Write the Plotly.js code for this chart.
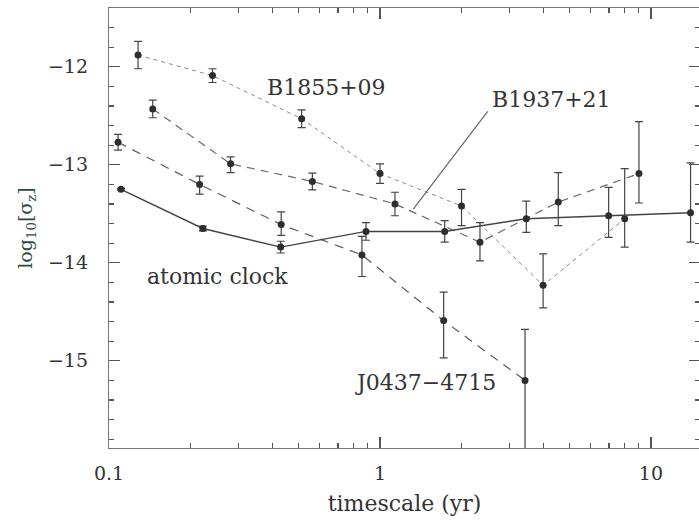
<!DOCTYPE html>
<html>
<head>
<meta charset="utf-8">
<script src="https://cdn.plot.ly/plotly-3.0.1.min.js"></script>
<style>
html,body{margin:0;padding:0;background:#fff;overflow:hidden;width:699px;height:525px;}
#chart{width:706px;height:525px;}
</style>
</head>
<body>
<div id="chart"></div>
<script>
// ---- data ----
const b1855_x = [0.128, 0.241, 0.514, 1.0, 2.0, 4.0, 8.0];
const b1855_y = [-11.88, -12.09, -12.53, -13.09, -13.42, -14.23, -13.55];
const b1855_up = [0.14, 0.07, 0.09, 0.10, 0.17, 0.32, 0.51];
const b1855_dn = [0.14, 0.07, 0.09, 0.10, 0.20, 0.23, 0.29];

const b1937_x = [0.145, 0.281, 0.563, 1.136, 2.339, 4.55, 9.03];
const b1937_y = [-12.43, -12.99, -13.17, -13.40, -13.79, -13.38, -13.09];
const b1937_up = [0.09, 0.07, 0.085, 0.12, 0.20, 0.30, 0.53];
const b1937_dn = [0.09, 0.09, 0.085, 0.12, 0.19, 0.24, 0.30];

const j0437_x = [0.108, 0.216, 0.432, 0.858, 1.718, 3.43];
const j0437_y = [-12.77, -13.20, -13.61, -13.92, -14.59, -15.20];
const j0437_up = [0.08, 0.085, 0.13, 0.19, 0.29, 0.52];
const j0437_dn = [0.08, 0.10, 0.11, 0.22, 0.38, 0.80];

const clock_x = [0.1107, 0.222, 0.430, 0.888, 1.733, 3.467, 6.98, 14.0];
const clock_y = [-13.25, -13.65, -13.84, -13.68, -13.68, -13.55, -13.52, -13.49];
const clock_up = [0.01, 0.025, 0.06, 0.09, 0.11, 0.18, 0.29, 0.51];
const clock_dn = [0.01, 0.025, 0.06, 0.09, 0.11, 0.14, 0.22, 0.30];

const xTickVals = [0.1, 1, 10];
const xTickText = ['0.1', '1', '10'];
const xMinorVals = [0.2,0.3,0.4,0.5,0.6,0.7,0.8,0.9,2,3,4,5,6,7,8,9];
const yTickVals = [-15, -14, -13, -12];
const yTickText = ['\u221215', '\u221214', '\u221213', '\u221212'];

const labels = {
  b1855: {text: 'B1855+09', x: 0.637, y: -12.214},
  b1937: {text: 'B1937+21', x: 4.31, y: -12.337},
  clock: {text: 'atomic clock', x: 0.252, y: -14.143},
  j0437: {text: 'J0437\u22124715', x: 1.478, y: -15.224}
};
const pointer = {x0: 2.497, y0: -12.456, x1: 1.327, y1: -13.452};

// ---- styling ----
const FONT = 'DejaVu Serif, Liberation Serif, serif';
const ptColor = '#2e2e2e';
function series(x, y, up, dn, dash, lcolor, lwidth) {
  return {
    type: 'scatter', mode: 'lines+markers', x: x, y: y,
    line: {color: lcolor, width: lwidth, dash: dash},
    marker: {color: ptColor, size: 7},
    error_y: {type: 'data', symmetric: false, array: up, arrayminus: dn,
              color: '#444', thickness: 1.2, width: 4},
    showlegend: false, hoverinfo: 'skip'
  };
}
const traces = [
  series(b1855_x, b1855_y, b1855_up, b1855_dn, '4px,4px', '#8a8a8a', 1),
  series(b1937_x, b1937_y, b1937_up, b1937_dn, '8px,6px', '#6a6a6a', 1.2),
  series(j0437_x, j0437_y, j0437_up, j0437_dn, '9px,7px', '#5a5a5a', 1.2),
  series(clock_x, clock_y, clock_up, clock_dn, 'solid', '#444', 1.4)
];

const annotations = Object.values(labels).map(l => ({
  text: l.text, x: Math.log10(l.x), y: l.y, xref: 'x', yref: 'y',
  showarrow: false, font: {family: FONT, size: 22, color: '#333'}
}));

const layout = {
  width: 706, height: 525,
  margin: {l: 109, r: 6, t: 8, b: 77},
  paper_bgcolor: '#fff', plot_bgcolor: '#fff',
  showlegend: false,
  font: {family: FONT, color: '#333'},
  xaxis: {
    type: 'log', range: [-1, 1.181],
    tickmode: 'array', tickvals: xTickVals, ticktext: xTickText,
    ticks: 'inside', ticklen: 11, tickwidth: 1.2, tickcolor: '#555',
    minor: {tickmode: 'array', tickvals: xMinorVals, ticks: 'inside', ticklen: 5, tickwidth: 1.2, tickcolor: '#555', showgrid: false},
    showline: true, linecolor: '#777', linewidth: 1.2, mirror: 'allticks',
    showgrid: false, zeroline: false,
    tickfont: {family: FONT, size: 19, color: '#333'},
    ticklabelstandoff: 8,
    title: {text: 'timescale (yr)', font: {family: FONT, size: 22, color: '#333'}, standoff: 12}
  },
  yaxis: {
    range: [-15.89, -11.40],
    tickmode: 'array', tickvals: yTickVals, ticktext: yTickText,
    ticks: 'inside', ticklen: 11, tickwidth: 1.2, tickcolor: '#555',
    minor: {dtick: 0.2, tick0: -16, ticks: 'inside', ticklen: 5, tickwidth: 1.2, tickcolor: '#555', showgrid: false},
    showline: true, linecolor: '#777', linewidth: 1.2, mirror: 'allticks',
    showgrid: false, zeroline: false,
    tickfont: {family: FONT, size: 19, color: '#333'},
    ticklabelstandoff: 16,
    title: {text: 'log<sub>10</sub>[\u03c3<sub>z</sub>]', font: {family: FONT, size: 19, color: '#2f4a3c'}, standoff: 10}
  },
  annotations: annotations,
  shapes: [{type: 'line', xref: 'x', yref: 'y',
            x0: pointer.x0, y0: pointer.y0, x1: pointer.x1, y1: pointer.y1,
            line: {color: '#666', width: 1.2}}]
};

Plotly.newPlot('chart', traces, layout, {staticPlot: true, displayModeBar: false});
</script>
</body>
</html>
